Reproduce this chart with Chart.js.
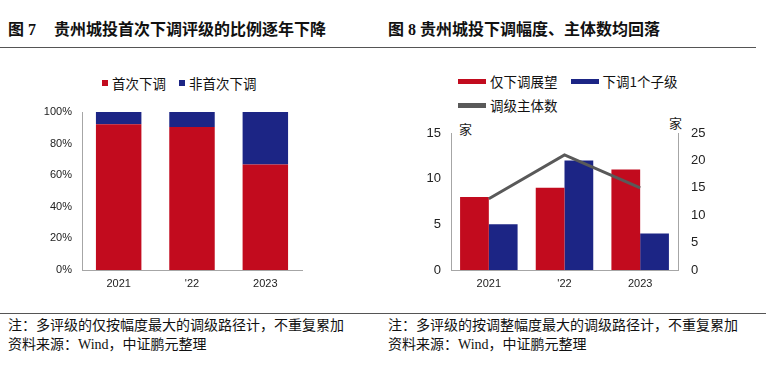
<!DOCTYPE html>
<html>
<head>
<meta charset="utf-8">
<script src="https://cdn.jsdelivr.net/npm/chart.js@4/dist/chart.umd.min.js"></script>
<style>
  body { margin: 0; width: 766px; height: 369px; background: #fff; position: relative; overflow: hidden;
         font-family: "Liberation Serif", "Noto Sans CJK SC", serif; color: #111; }
  .abs { position: absolute; white-space: nowrap; }
  .title { font-family: "Liberation Serif", "Noto Sans CJK SC", serif; font-weight: bold; font-size: 16px; line-height: 16px; top: 22px; }
  .rule { position: absolute; height: 0; border-top: 1.5px solid #555; }
  .note { font-size: 14px; line-height: 14px; left: 8px; }
  .legend { position: absolute; display: flex; align-items: center; font-family: "Noto Sans CJK SC", sans-serif; font-size: 13.5px; line-height: 14px; color: #111; }
  .legend .item { display: flex; align-items: center; margin-right: 13px; }
  .legend .box { margin-right: 4px; }
  .unit { position: absolute; font-family: "Noto Sans CJK SC", sans-serif; font-size: 13px; line-height: 13px; color: #222; }
  .wrap { position: absolute; top: 100px; width: 383px; height: 200px; }
</style>
</head>
<body>
<div class="abs title" style="left:8px">图 7</div>
<div class="abs title" style="left:54px">贵州城投首次下调评级的比例逐年下降</div>
<div class="abs title" style="left:388px">图 8 贵州城投下调幅度、主体数均回落</div>
<div class="rule" style="left:0; width:756px; top:47px"></div>

<div id="legend1" class="legend" style="left:102px; top:76px"></div>
<div id="legend2" class="legend" style="left:458px; top:74px; width:240px; flex-wrap:wrap; row-gap:10px"></div>
<div class="unit" style="left:459px; top:122px">家</div>
<div class="unit" style="left:669px; top:116px">家</div>

<div class="wrap" style="left:0"><canvas id="c1"></canvas></div>
<div class="wrap" style="left:383px"><canvas id="c2"></canvas></div>

<div class="rule" style="left:0; width:766px; top:313px"></div>
<div class="abs note" style="top:319px">注：多评级的仅按幅度最大的调级路径计，不重复累加</div>
<div class="abs note" style="top:338px">资料来源：Wind，中证鹏元整理</div>
<div class="abs note" style="left:388px; top:319px">注：多评级的按调整幅度最大的调级路径计，不重复累加</div>
<div class="abs note" style="left:388px; top:338px">资料来源：Wind，中证鹏元整理</div>

<script>
// chart 7: share of first downgrades (%)
const years = ['2021', "'22", '2023'];
const firstShare = [92.3, 90.5, 66.7];
const repeatShare = [7.7, 9.5, 33.3];

// chart 8: downgrade counts (left axis) and number of issuers (right axis)
const outlookOnly = [8, 9, 11];
const downOneNotch = [5, 12, 4];
const issuerCount = [13, 21, 15];

const RED = '#C20B1E';
const BLUE = '#1C2585';
const GRAY = '#595959';
const AXIS = '#A6A6A6';
const tickFont = { family: 'Liberation Sans, Arial, sans-serif', size: 11 };
const tickFont2 = { family: 'Liberation Sans, Arial, sans-serif', size: 13 };

// fixed axis sizes so the plot areas line up with the picture
const fixWidth = w => scale => { scale.width = w; scale.paddingTop = 0; scale.paddingBottom = 0; };
const fixHeight = h => scale => { scale.height = h; };

const c1 = new Chart(document.getElementById('c1'), {
    type: 'bar',
    data: {
        labels: years,
        datasets: [
            { label: '首次下调', data: firstShare, backgroundColor: RED },
            { label: '非首次下调', data: repeatShare, backgroundColor: BLUE }
        ]
    },
    options: {
        responsive: true,
        maintainAspectRatio: false,
        animation: false,
        layout: { padding: { top: 12, right: 81, left: 0, bottom: 0 } },
        plugins: { legend: { display: false }, tooltip: { enabled: false } },
        datasets: { bar: { categoryPercentage: 1, barPercentage: 0.62 } },
        scales: {
            x: {
                stacked: true,
                grid: { display: false, drawTicks: false },
                border: { color: AXIS, width: 1 },
                ticks: { color: '#222', font: tickFont, padding: 7 },
                afterFit: fixHeight(30)
            },
            y: {
                stacked: true,
                min: 0, max: 100,
                grid: { display: false, drawTicks: false },
                border: { color: AXIS, width: 1 },
                ticks: { stepSize: 20, color: '#222', font: tickFont, padding: 10, callback: v => v + '%' },
                afterFit: fixWidth(82)
            }
        }
    }
});

const c2 = new Chart(document.getElementById('c2'), {
    type: 'bar',
    data: {
        labels: years,
        datasets: [
            { type: 'line', label: '调级主体数', data: issuerCount, yAxisID: 'y1',
              borderColor: GRAY, backgroundColor: GRAY, borderWidth: 3, pointRadius: 0, tension: 0, order: 0 },
            { label: '仅下调展望', data: outlookOnly, backgroundColor: RED, yAxisID: 'y', order: 1 },
            { label: '下调1个子级', data: downOneNotch, backgroundColor: BLUE, yAxisID: 'y', order: 1 }
        ]
    },
    options: {
        responsive: true,
        maintainAspectRatio: false,
        animation: false,
        layout: { padding: { top: 33, right: 0, left: 0, bottom: 0 } },
        plugins: { legend: { display: false }, tooltip: { enabled: false } },
        datasets: { bar: { categoryPercentage: 0.76, barPercentage: 1 } },
        scales: {
            x: {
                grid: { display: false, drawTicks: false },
                border: { color: AXIS, width: 1 },
                ticks: { color: '#222', font: tickFont, padding: 7 },
                afterFit: fixHeight(30)
            },
            y: {
                position: 'left',
                min: 0, max: 15,
                grid: { display: false, drawTicks: false },
                border: { color: AXIS, width: 1 },
                ticks: { stepSize: 5, color: '#222', font: tickFont2, padding: 10 },
                afterFit: fixWidth(68)
            },
            y1: {
                position: 'right',
                min: 0, max: 25,
                grid: { display: false, drawTicks: false },
                border: { color: AXIS, width: 1 },
                ticks: { stepSize: 5, color: '#222', font: tickFont2, padding: 13 },
                afterFit: fixWidth(88)
            }
        }
    }
});

// html legends built from the chart datasets
function buildLegend(chart, el, order, swatch) {
    order.forEach(i => {
        const ds = chart.data.datasets[i];
        const item = document.createElement('div');
        item.className = 'item';
        const box = document.createElement('span');
        box.className = 'box';
        box.style.display = 'inline-block';
        box.style.width = swatch.w + 'px';
        box.style.height = swatch.h + 'px';
        box.style.background = ds.type === 'line' ? ds.borderColor : ds.backgroundColor;
        const txt = document.createElement('span');
        txt.textContent = ds.label;
        item.appendChild(box);
        item.appendChild(txt);
        el.appendChild(item);
    });
}
buildLegend(c1, document.getElementById('legend1'), [0, 1], { w: 6, h: 6 });
buildLegend(c2, document.getElementById('legend2'), [1, 2, 0], { w: 28, h: 5 });
</script>
</body>
</html>
